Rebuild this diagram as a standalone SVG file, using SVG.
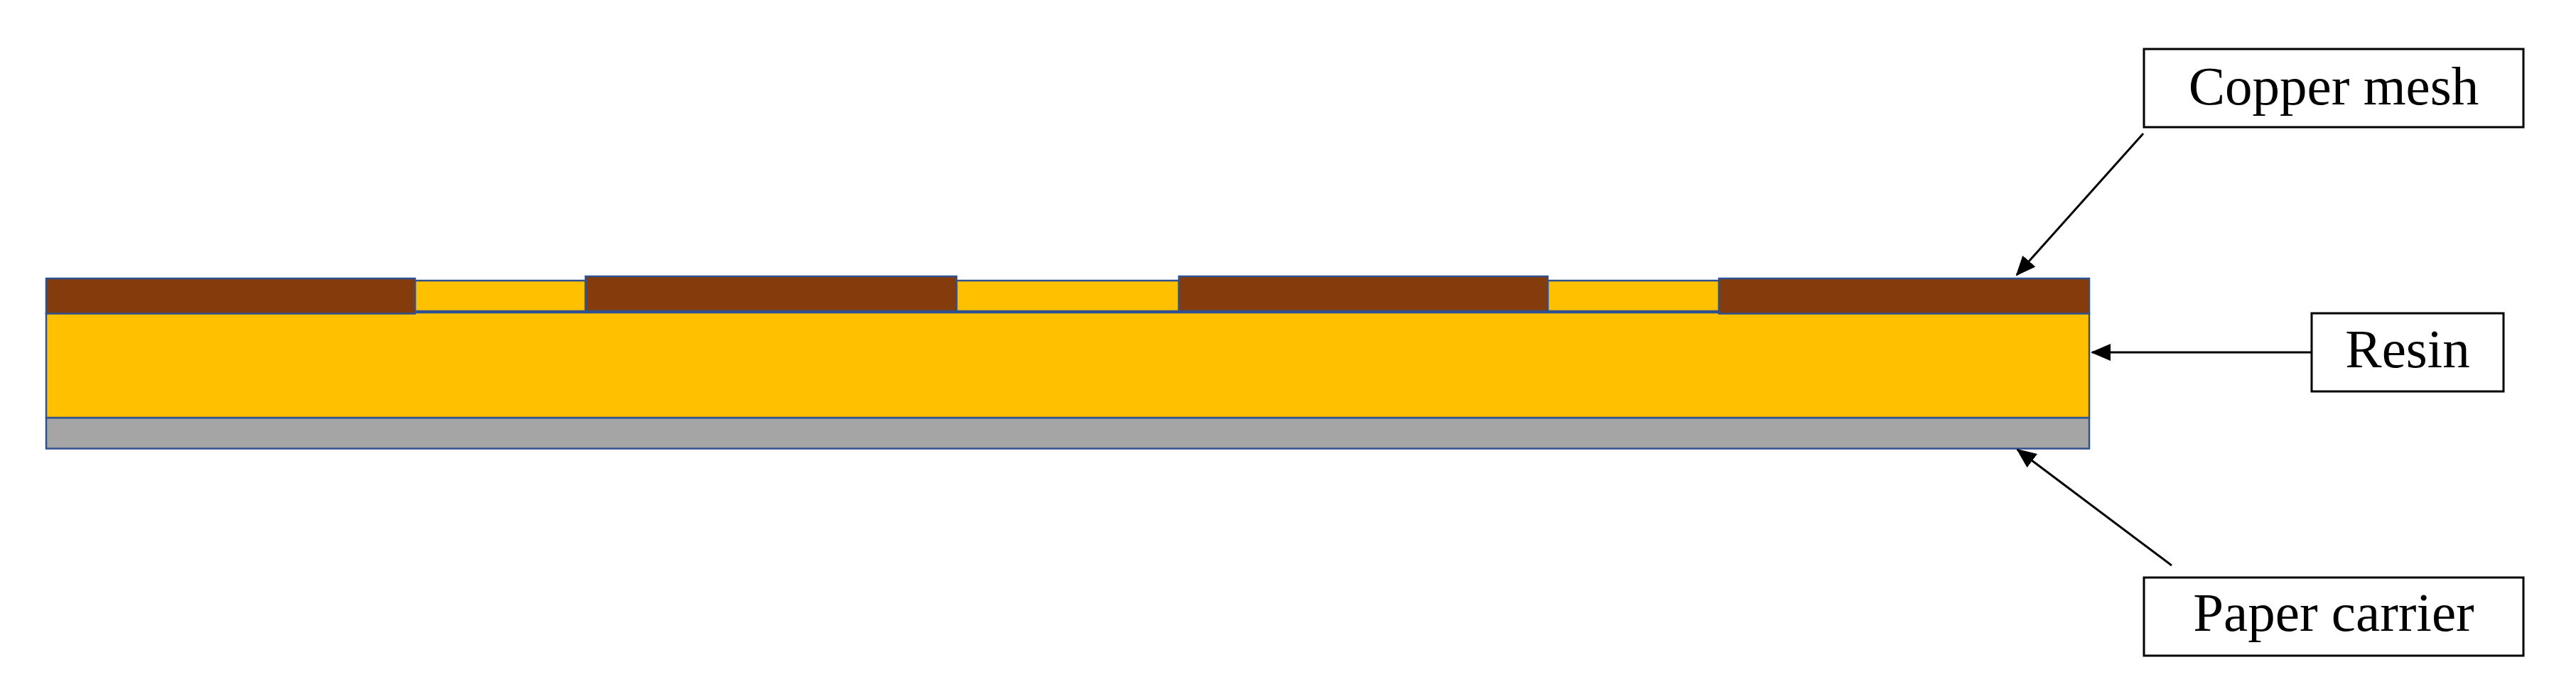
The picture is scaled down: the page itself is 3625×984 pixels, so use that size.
<svg xmlns="http://www.w3.org/2000/svg" width="3625" height="984" viewBox="0 0 3625 984">
<style>
.cu{fill:#843C0C;stroke:#2F528F;stroke-width:2.5}
.rs{fill:#FFC000;stroke:#2F528F;stroke-width:2.5}
.pp{fill:#A5A5A5;stroke:#2F528F;stroke-width:2.5}
.box{fill:#FFFFFF;stroke:#000000;stroke-width:3}
.lbl{font-family:"Liberation Serif","DejaVu Serif",serif;font-size:77px;fill:#000000;text-anchor:middle}
.con{stroke:#000000;stroke-width:3;fill:none;marker-end:url(#ah)}
</style>
<defs>
<marker id="ah" markerUnits="userSpaceOnUse" markerWidth="28" markerHeight="24" refX="26" refY="12" orient="auto">
<path d="M0,0 L28,12 L0,24 Z" fill="#000000"/>
</marker>
</defs>
<rect width="3625" height="984" fill="#FFFFFF"/>
<g id="stack">
<rect id="paper" class="pp" x="65" y="588" width="2875" height="43.5"/>
<rect id="resin" class="rs" x="65" y="440" width="2875" height="148"/>
<rect class="rs" x="584" y="395" width="240" height="43"/>
<rect class="rs" x="1346" y="395" width="313" height="43"/>
<rect class="rs" x="2178" y="395" width="241" height="43"/>
<rect class="cu" x="65" y="392" width="519" height="49.5"/>
<rect class="cu" x="824" y="389" width="522" height="49"/>
<rect class="cu" x="1659" y="389" width="519" height="49"/>
<rect class="cu" x="2419" y="392" width="521" height="49.5"/>
</g>
<g id="label-copper">
<rect class="box" x="3017" y="69" width="534" height="110"/>
<text class="lbl" x="3284" y="147">Copper mesh</text>
</g>
<g id="label-resin">
<rect class="box" x="3253" y="441" width="270" height="110"/>
<text class="lbl" x="3388" y="517">Resin</text>
</g>
<g id="label-paper">
<rect class="box" x="3017" y="813" width="534" height="110"/>
<text class="lbl" x="3284" y="888">Paper carrier</text>
</g>
<g id="connectors">
<line class="con" x1="3016" y1="188" x2="2838" y2="387"/>
<line class="con" x1="3253" y1="496" x2="2944" y2="496"/>
<line class="con" x1="3056" y1="796" x2="2839" y2="633"/>
</g>
</svg>
